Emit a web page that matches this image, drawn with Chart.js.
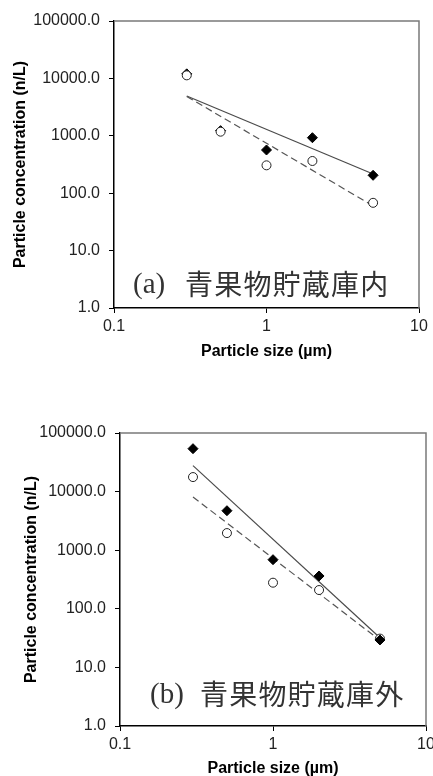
<!DOCTYPE html>
<html>
<head>
<meta charset="utf-8">
<script src="https://cdn.jsdelivr.net/npm/chart.js@4.4.1/dist/chart.umd.min.js"></script>
<style>
  html, body { margin: 0; padding: 0; background: #fff; overflow: hidden; }
  body { width: 433px; height: 776px; position: relative; }
  .box { position: absolute; left: 0; width: 450px; }
  #topBox { top: 0; height: 365px; }
  #botBox { top: 385px; height: 397px; }
</style>
</head>
<body>
<div class="box" id="topBox"><canvas id="chartA" width="450" height="365"></canvas></div>
<div class="box" id="botBox"><canvas id="chartB" width="450" height="397"></canvas></div>
<script>
// particle sizes (um)
const sizes = [0.3, 0.5, 1, 2, 5];

// (a) inside storage
const insideFilled = [12000, 1230, 566, 927, 205];
const insideOpen = [11300, 1180, 306, 364, 68];
// (b) outside storage
const outsideFilled = [54000, 4720, 689, 363, 29.4];
const outsideOpen = [17700, 1960, 279, 209, 31];

// fitted power-law lines, end points
const fitX = [0.3, 5];
const insideFilledFit = [4930, 216];
const insideOpenFit = [4850, 60];
const outsideFilledFit = [27700, 32];
const outsideOpenFit = [8090, 29];

const xTicks = [0.1, 1, 10];
const xTickLabels = ['0.1', '1', '10'];
const yTicks = [1, 10, 100, 1000, 10000, 100000];
const yTickLabels = ['1.0', '10.0', '100.0', '1000.0', '10000.0', '100000.0'];

const tagA = '(a)';
const tagB = '(b)';
const nameA = '青果物貯蔵庫内';
const nameB = '青果物貯蔵庫外';

const pts = (xs, ys) => xs.map((x, i) => ({x: x, y: ys[i]}));

// gray frame on top/right + the panel caption
const framePlugin = {
  id: 'frame',
  afterDraw(chart, args, opts) {
    const {ctx, chartArea: a} = chart;
    ctx.save();
    ctx.strokeStyle = '#7a7a7a';
    ctx.lineWidth = 1.5;
    ctx.beginPath();
    ctx.moveTo(a.left, a.top);
    ctx.lineTo(a.right, a.top);
    ctx.lineTo(a.right, a.bottom);
    ctx.stroke();
    const x = a.left + opts.dx, y = a.bottom - opts.dy;
    ctx.fillStyle = '#333';
    ctx.textBaseline = 'middle';
    ctx.font = '29px "Liberation Serif", serif';
    ctx.fillText(opts.tag, x, y + 1);
    ctx.font = '28px "Noto Sans CJK JP", sans-serif';
    ctx.letterSpacing = '1.2px';
    ctx.fillText(opts.name, x + opts.gap, y);
    ctx.restore();
  }
};

function makeChart(id, filled, open, filledFit, openFit, tag, name, lay) {
  const axisFont = {family: 'Arial, "Liberation Sans", sans-serif', size: 16};
  const titleFont = {family: 'Arial, "Liberation Sans", sans-serif', size: 16, weight: 'bold'};
  new Chart(document.getElementById(id), {
    type: 'scatter',
    data: {
      datasets: [
        {
          data: pts(fitX, filledFit), showLine: true, pointRadius: 0,
          borderColor: '#4a4a4a', borderWidth: 1.2, order: 5
        },
        {
          data: pts(fitX, openFit), showLine: true, pointRadius: 0,
          borderColor: '#555', borderWidth: 1.2, borderDash: [7, 4], order: 4
        },
        {
          data: pts(sizes, filled), pointStyle: 'rectRot', pointRadius: 5,
          backgroundColor: '#000', borderColor: '#000', borderWidth: 1,
          order: lay.diamondOnTop ? 1 : 3
        },
        {
          data: pts(sizes, open), pointStyle: 'circle', pointRadius: 4.5,
          backgroundColor: '#fff', borderColor: '#222', borderWidth: 1,
          order: 2
        }
      ]
    },
    options: {
      responsive: false,
      animation: false,
      events: [],
      layout: {padding: {left: 0, top: lay.top, right: lay.right, bottom: 0}},
      plugins: {
        legend: {display: false},
        tooltip: {enabled: false},
        frame: {tag: tag, name: name, dx: lay.dx, dy: lay.dy, gap: lay.gap}
      },
      scales: {
        x: {
          type: 'logarithmic', min: 0.1, max: 10,
          afterBuildTicks: s => { s.ticks = xTicks.map(v => ({value: v})); },
          afterFit: s => { s.height = lay.xh; },
          ticks: {
            autoSkip: false, maxRotation: 0, padding: 4, color: '#222', font: axisFont,
            callback: (v, i) => xTickLabels[i]
          },
          grid: {drawOnChartArea: false, tickLength: 5, color: '#000', lineWidth: 1},
          border: {color: '#000', width: 1.5},
          title: {display: true, text: 'Particle size (µm)', color: '#000', font: titleFont, padding: {top: 4, bottom: 4}}
        },
        y: {
          type: 'logarithmic', min: 1, max: 100000,
          afterBuildTicks: s => { s.ticks = yTicks.map(v => ({value: v})); },
          afterFit: s => { s.width = lay.yw; },
          ticks: {
            autoSkip: false, padding: 9, color: '#222', font: axisFont,
            callback: (v, i) => yTickLabels[i]
          },
          grid: {drawOnChartArea: false, tickLength: 5, color: '#000', lineWidth: 1},
          border: {color: '#000', width: 1.5},
          title: {display: true, text: 'Particle concentration (n/L)', color: '#000', font: titleFont, padding: {top: lay.yt, bottom: 0}}
        }
      }
    },
    plugins: [framePlugin]
  });
}

makeChart('chartA', insideFilled, insideOpen, insideFilledFit, insideOpenFit, tagA, nameA,
  {top: 21, right: 31, yw: 114, xh: 57, yt: 11.4, dx: 19, dy: 24, gap: 52, diamondOnTop: false});
makeChart('chartB', outsideFilled, outsideOpen, outsideFilledFit, outsideOpenFit, tagB, nameB,
  {top: 48, right: 24, yw: 120, xh: 56, yt: 22.4, dx: 30, dy: 32, gap: 50, diamondOnTop: true});
</script>
</body>
</html>
